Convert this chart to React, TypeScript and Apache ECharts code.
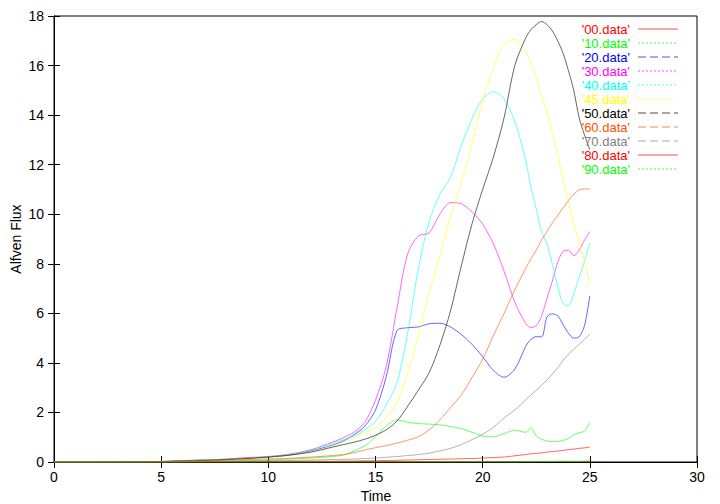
import React, { useEffect, useRef } from "react";
import * as echarts from "echarts";

const T = [0, 5, 6, 7, 8, 9, 10, 11, 12, 13, 13.5, 14, 14.5, 15, 15.5, 16, 16.5, 17, 17.5, 18, 18.5, 19, 19.5, 20, 20.5, 21, 21.5, 22, 22.25, 22.5, 22.75, 23, 23.25, 23.5, 23.75, 24, 24.25, 24.5, 24.75, 25];

const s00 = [0, 0, 0, 0, 0, 0, 0, 0, 0, 0.01, 0.01, 0.01, 0.01, 0.01, 0.01, 0.01, 0.01, 0.01, 0.01, 0.01, 0.01, 0.01, 0.01, 0.01, 0.01, 0.01, 0.01, 0.01, 0.01, 0.01, 0.01, 0.01, 0.01, 0.01, 0.01, 0.01, 0.01, 0.01, 0.01, 0.01];
const s10 = [0, 0, 0.01, 0.02, 0.04, 0.06, 0.08, 0.12, 0.16, 0.22, 0.28, 0.45, 0.65, 1.02, 1.45, 1.7, 1.6, 1.55, 1.53, 1.5, 1.43, 1.35, 1.2, 1.05, 1.02, 1.15, 1.28, 1.2, 1.38, 1.05, 0.92, 0.85, 0.82, 0.83, 0.87, 0.95, 1.1, 1.18, 1.25, 1.6];
const s20 = [0, 0.02, 0.05, 0.08, 0.1, 0.15, 0.2, 0.28, 0.45, 0.68, 0.85, 1.1, 1.45, 2.1, 3.44, 5.3, 5.42, 5.45, 5.58, 5.6, 5.45, 5.15, 4.75, 4.25, 3.7, 3.42, 3.75, 4.65, 4.95, 5.06, 5.05, 5.85, 5.98, 5.9, 5.55, 5.2, 5.0, 5.05, 5.5, 6.7];
const s30 = [0, 0.02, 0.06, 0.08, 0.12, 0.18, 0.22, 0.32, 0.5, 0.8, 0.98, 1.2, 1.6, 2.5, 3.85, 6.2, 8.4, 9.12, 9.25, 10.0, 10.47, 10.42, 10.1, 9.6, 8.8, 7.7, 6.45, 5.6, 5.43, 5.5, 5.9, 6.6, 7.3, 8.05, 8.5, 8.55, 8.32, 8.55, 8.95, 9.3];
const s40 = [0, 0.02, 0.05, 0.08, 0.1, 0.15, 0.22, 0.3, 0.48, 0.75, 0.9, 1.05, 1.3, 1.65, 2.3, 3.2, 5.2, 7.8, 9.7, 10.8, 11.5, 12.75, 13.85, 14.65, 14.94, 14.65, 13.75, 12.2, 11.1, 10.2, 9.3, 8.8, 8.0, 7.1, 6.4, 6.3, 6.8, 7.45, 8.1, 8.85];
const s45 = [0, 0.02, 0.04, 0.07, 0.1, 0.14, 0.2, 0.28, 0.42, 0.65, 0.8, 0.98, 1.18, 1.4, 1.8, 2.4, 3.6, 5.1, 6.8, 8.3, 9.9, 11.3, 12.8, 14.6, 15.9, 16.9, 17.05, 16.55, 16.1, 15.5, 14.8, 14.1, 13.3, 12.4, 11.4, 10.5, 9.6, 8.9, 8.1, 7.2];
const s50 = [0, 0.02, 0.04, 0.06, 0.1, 0.14, 0.2, 0.28, 0.4, 0.6, 0.7, 0.8, 0.92, 1.08, 1.3, 1.65, 2.25, 2.9, 3.6, 4.7, 6.1, 7.9, 9.6, 11.0, 12.3, 13.9, 16.0, 17.1, 17.45, 17.65, 17.78, 17.65, 17.4, 17.0, 16.5, 15.8, 15.0, 13.9, 13.2, 12.6];
const s60 = [0, 0.01, 0.03, 0.05, 0.07, 0.1, 0.12, 0.15, 0.2, 0.26, 0.3, 0.38, 0.48, 0.58, 0.66, 0.76, 0.88, 1.02, 1.3, 1.7, 2.2, 2.7, 3.4, 4.15, 5.1, 6.0, 6.95, 7.8, 8.2, 8.55, 8.95, 9.3, 9.65, 9.95, 10.25, 10.55, 10.8, 10.98, 11.02, 11.02];
const s70 = [0, 0, 0.01, 0.02, 0.03, 0.04, 0.05, 0.06, 0.08, 0.1, 0.11, 0.12, 0.14, 0.16, 0.19, 0.22, 0.26, 0.3, 0.36, 0.45, 0.55, 0.7, 0.9, 1.12, 1.4, 1.78, 2.1, 2.5, 2.7, 2.9, 3.1, 3.3, 3.55, 3.8, 4.1, 4.35, 4.55, 4.75, 4.95, 5.15];
const s80 = [0, 0, 0, 0, 0.01, 0.01, 0.02, 0.02, 0.03, 0.03, 0.04, 0.04, 0.05, 0.05, 0.06, 0.07, 0.08, 0.09, 0.1, 0.11, 0.12, 0.13, 0.14, 0.16, 0.18, 0.2, 0.25, 0.3, 0.33, 0.35, 0.37, 0.4, 0.42, 0.44, 0.47, 0.5, 0.52, 0.55, 0.57, 0.6];
const s90 = [0, 0, 0, 0, 0, 0, 0, 0, 0, 0, 0, 0, 0, 0, 0, 0, 0, 0, 0, 0, 0, 0, 0, 0, 0, 0, 0, 0.01, 0.01, 0.01, 0.02, 0.02, 0.02, 0.03, 0.03, 0.03, 0.03, 0.03, 0.04, 0.04];

const names = ["'00.data'", "'10.data'", "'20.data'", "'30.data'", "'40.data'", "'45.data'", "'50.data'", "'60.data'", "'70.data'", "'80.data'", "'90.data'"];
const values = [s00, s10, s20, s30, s40, s45, s50, s60, s70, s80, s90];
const colors = ["#ff0000", "#00ff00", "#0000ff", "#ff00ff", "#00ffff", "#ffff00", "#000000", "#ff5000", "#808080", "#ff0000", "#00ff00"];
const dashes = ["solid", "dotted", "dashed", "dotted", "dotted", "dotted", "dashed", "dashed", "dashed", "solid", "dotted"];

const xTicks = { min: 0, max: 30, interval: 5 };
const yTicks = { min: 0, max: 18, interval: 2 };
const xTitle = "Time";
const yTitle = "Alfven Flux";

const FONT = "'Liberation Sans', Arial, sans-serif";

export default function App() {
  const ref = useRef<HTMLDivElement>(null);
  useEffect(() => {
    if (!ref.current) return;
    document.body.style.margin = "0";
    const chart = echarts.init(ref.current, null, { renderer: "svg" });
    const axisCommon = {
      axisLine: { show: true, lineStyle: { color: "#000", width: 1 } },
      axisTick: { show: true, inside: true, length: 6, lineStyle: { color: "#000" } },
      splitLine: { show: false },
    };
    chart.setOption({
      animation: false,
      backgroundColor: "#fff",
      textStyle: { fontFamily: FONT },
      grid: {
        left: 54,
        right: 23,
        top: 16,
        bottom: 42,
        show: true,
        borderColor: "#000",
        borderWidth: 1,
        containLabel: false,
        outerBoundsMode: "none",
      },
      graphic: [
        {
          type: "text",
          x: 376,
          y: 496,
          style: { text: xTitle, fill: "#000", fontSize: 14, fontFamily: FONT, align: "center", verticalAlign: "middle" },
        },
        {
          type: "text",
          x: 16,
          y: 239,
          rotation: Math.PI / 2,
          style: { text: yTitle, fill: "#000", fontSize: 14, fontFamily: FONT, align: "center", verticalAlign: "middle" },
        },
      ],
      legend: {
        orient: "vertical",
        align: "right",
        right: 41,
        top: 22,
        padding: 0,
        itemWidth: 40,
        itemHeight: 14,
        itemGap: 0,
        selectedMode: false,
        data: names.map((n, i) => ({
          name: n,
          itemStyle: { opacity: 0 },
          textStyle: { color: colors[i], fontSize: 13, fontFamily: FONT, lineHeight: 14, padding: [0, 3, 0, 0] },
          lineStyle: { color: colors[i], width: 2, opacity: 0.35, type: dashes[i] },
        })),
      },
      xAxis: [
        {
          type: "value",
          ...xTicks,
          ...axisCommon,
          axisLabel: { color: "#000", fontSize: 14, fontFamily: FONT, margin: 8 },
        },
        {
          type: "value",
          position: "top",
          ...xTicks,
          ...axisCommon,
          axisLabel: { show: false },
        },
      ],
      yAxis: [
        {
          type: "value",
          ...yTicks,
          ...axisCommon,
          axisLabel: { color: "#000", fontSize: 14, fontFamily: FONT, margin: 10 },
        },
        {
          type: "value",
          position: "right",
          ...yTicks,
          ...axisCommon,
          axisLabel: { show: false },
        },
      ],
      series: names.map((n, i) => ({
        name: n,
        type: "line",
        xAxisIndex: 0,
        yAxisIndex: 0,
        symbol: "none",
        showSymbol: false,
        smooth: 0.3,
        color: colors[i],
        lineStyle: { color: colors[i], width: 1, opacity: 0.6 },
        data: T.map((t, k) => [t, values[i][k]]),
      })),
    });
    return () => chart.dispose();
  }, []);
  return <div ref={ref} style={{ width: 720, height: 504 }} />;
}
